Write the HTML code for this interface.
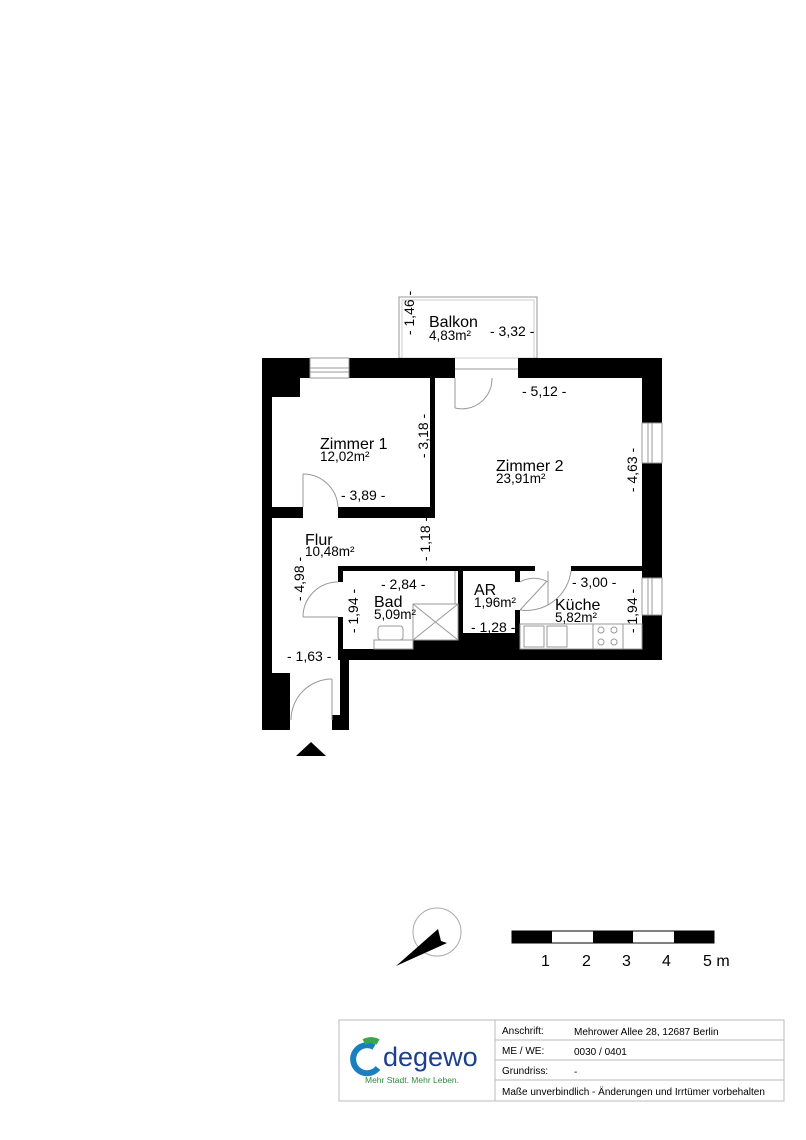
<!DOCTYPE html>
<html><head><meta charset="utf-8"><style>
body{margin:0;background:#fff}
svg{display:block}
text{font-family:"Liberation Sans",sans-serif;fill:#000}
</style></head><body>
<svg width="806" height="1140" viewBox="0 0 806 1140" xmlns="http://www.w3.org/2000/svg">
<rect x="399" y="297" width="138" height="61" fill="none" stroke="#999" stroke-width="1"/>
<rect x="402" y="300" width="132" height="58" fill="none" stroke="#ccc" stroke-width="1"/>
<g fill="#000">
<rect x="262" y="358" width="48" height="20"/>
<rect x="349" y="358" width="106" height="20"/>
<rect x="518" y="358" width="144" height="20"/>
<rect x="262" y="358" width="38" height="39"/>
<rect x="262" y="358" width="10" height="315"/>
<rect x="262" y="673" width="28" height="57"/>
<rect x="642" y="358" width="20" height="65"/>
<rect x="642" y="463" width="20" height="115"/>
<rect x="642" y="615" width="20" height="45"/>
<rect x="430" y="378" width="5" height="140"/>
<rect x="272" y="507" width="31" height="11"/>
<rect x="338" y="507" width="97" height="11"/>
<rect x="338" y="566" width="197" height="5"/>
<rect x="571" y="566" width="71" height="5"/>
<rect x="338" y="566" width="5" height="16"/>
<rect x="338" y="617" width="5" height="43"/>
<rect x="458" y="571" width="5" height="79"/>
<rect x="515" y="571" width="5" height="11"/>
<rect x="515" y="610" width="5" height="40"/>
<rect x="458" y="633" width="62" height="17"/>
<rect x="413" y="640" width="45" height="12"/>
<rect x="338" y="649" width="324" height="11"/>
<rect x="340" y="650" width="9" height="80"/>
<rect x="332" y="715" width="17" height="15"/>
<polygon points="296,756 311,742 326,756"/>
</g>
<g fill="#fff" stroke="#999" stroke-width="1">
<rect x="310" y="358" width="39" height="20"/><line x1="310" y1="368" x2="349" y2="368"/><line x1="310" y1="372" x2="349" y2="372"/>
<rect x="642" y="423" width="20" height="40"/><line x1="652" y1="423" x2="652" y2="463"/><line x1="648" y1="423" x2="648" y2="463"/>
<rect x="642" y="578" width="20" height="37"/><line x1="652" y1="578" x2="652" y2="615"/><line x1="648" y1="578" x2="648" y2="615"/>
</g>
<g fill="none" stroke="#999" stroke-width="1">
<line x1="455" y1="369" x2="518" y2="369"/>
<line x1="455" y1="378" x2="455" y2="408"/><path d="M455,408 A30,30 0 0 0 492,378"/>
<line x1="303" y1="474" x2="303" y2="507"/><path d="M303,474 A35,35 0 0 1 338,507"/>
<line x1="303" y1="617" x2="338" y2="617"/><path d="M303,617 A35,35 0 0 1 338,582"/>
<line x1="520" y1="610" x2="547" y2="581"/><path d="M520,582 A28,28 0 0 1 548,582 L548,600"/>
<line x1="548" y1="571" x2="548" y2="605"/><path d="M520,610 A45,45 0 0 0 571,571"/>
<line x1="332" y1="679" x2="332" y2="720"/><path d="M291,720 A41,41 0 0 1 332,679"/>
</g>
<g fill="none" stroke="#999" stroke-width="1">
<rect x="413" y="604" width="45" height="36"/><line x1="413" y1="604" x2="458" y2="640"/><line x1="458" y1="604" x2="413" y2="640"/>
<rect x="378" y="626" width="25" height="14" rx="3"/><rect x="374" y="640" width="39" height="9"/>
<rect x="520" y="624" width="122" height="25"/><rect x="524" y="626" width="20" height="21"/><rect x="547" y="626" width="20" height="21"/>
<rect x="593" y="624" width="30" height="25"/>
<circle cx="601" cy="630" r="3"/><circle cx="614" cy="630" r="3"/><circle cx="601" cy="642" r="3"/><circle cx="614" cy="642" r="3"/>
<line x1="455" y1="571" x2="455" y2="604"/>
</g>
<g font-size="16">
<text x="429" y="327">Balkon</text>
<text x="320" y="449">Zimmer 1</text>
<text x="496" y="471">Zimmer 2</text>
<text x="305" y="545">Flur</text>
<text x="374" y="607">Bad</text>
<text x="474" y="595">AR</text>
<text x="555" y="610">Küche</text>
</g>
<g font-size="13.5">
<text x="429" y="340">4,83m²</text>
<text x="320" y="461">12,02m²</text>
<text x="496" y="483">23,91m²</text>
<text x="305" y="556">10,48m²</text>
<text x="374" y="619">5,09m²</text>
<text x="474" y="607">1,96m²</text>
<text x="555" y="622">5,82m²</text>
</g>
<g font-size="14">
<text x="490" y="336">- 3,32 -</text>
<text x="522" y="396">- 5,12 -</text>
<text x="341" y="500">- 3,89 -</text>
<text x="381" y="589">- 2,84 -</text>
<text x="572" y="587">- 3,00 -</text>
<text x="471" y="632">- 1,28 -</text>
<text x="287" y="661">- 1,63 -</text>
<text transform="translate(414,313) rotate(-90)" text-anchor="middle">- 1,46 -</text>
<text transform="translate(428,436) rotate(-90)" text-anchor="middle">- 3,18 -</text>
<text transform="translate(637,470) rotate(-90)" text-anchor="middle">- 4,63 -</text>
<text transform="translate(430,539) rotate(-90)" text-anchor="middle">- 1,18 -</text>
<text transform="translate(304,579) rotate(-90)" text-anchor="middle">- 4,98 -</text>
<text transform="translate(358,611) rotate(-90)" text-anchor="middle">- 1,94 -</text>
<text transform="translate(637,611) rotate(-90)" text-anchor="middle">- 1,94 -</text>
</g>
<circle cx="437" cy="932" r="24" fill="none" stroke="#aaa"/>
<polygon points="396,966 438,929 441,941 447,943" fill="#000"/>
<rect x="512" y="931" width="202" height="12" fill="#fff" stroke="#000"/>
<rect x="512" y="931" width="40" height="12" fill="#000"/>
<rect x="593" y="931" width="40" height="12" fill="#000"/>
<rect x="674" y="931" width="40" height="12" fill="#000"/>
<g font-size="16">
<text x="541" y="966">1</text><text x="582" y="966">2</text><text x="622" y="966">3</text><text x="662" y="966">4</text><text x="703" y="966">5 m</text>
</g>
<g fill="none" stroke="#bbb">
<rect x="339" y="1020" width="445" height="81"/>
<line x1="495" y1="1020" x2="495" y2="1101"/>
<line x1="495" y1="1040" x2="784" y2="1040"/>
<line x1="495" y1="1060" x2="784" y2="1060"/>
<line x1="495" y1="1080" x2="784" y2="1080"/>
</g>
<g font-size="10" style="fill:#222">
<text x="502" y="1034">Anschrift:</text><text x="574" y="1035">Mehrower Allee 28, 12687 Berlin</text>
<text x="502" y="1054">ME / WE:</text><text x="574" y="1055">0030 / 0401</text>
<text x="502" y="1074">Grundriss:</text><text x="574" y="1075">-</text>
<text x="502" y="1095">Maße unverbindlich - Änderungen und Irrtümer vorbehalten</text>
</g>
<path d="M374,1047 A14,14 0 1 0 378,1068" fill="none" stroke="#1a7fc0" stroke-width="6"/>
<path d="M364,1042 A14,14 0 0 1 378,1042" fill="none" stroke="#3aa648" stroke-width="6"/>
<text x="383" y="1066" font-size="27" style="fill:#1d3f8f">degewo</text>
<text x="365" y="1083" font-size="8.5" style="fill:#2e8b3e">Mehr Stadt. Mehr Leben.</text>
</svg>
</body></html>
